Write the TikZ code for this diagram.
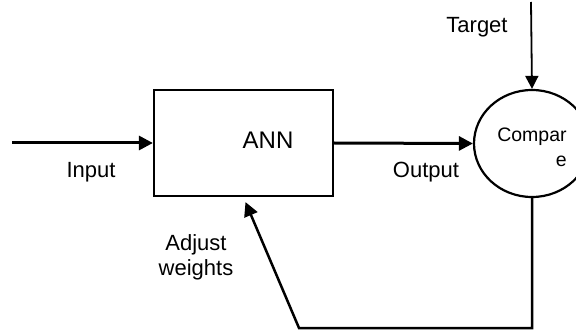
\documentclass[tikz,border=0pt]{standalone}
\usepackage{fontspec}
\setmainfont{Liberation Sans}
\usetikzlibrary{arrows.meta,shapes.geometric}

\begin{document}
\begin{tikzpicture}[%
  x=1pt, y=-1pt,
  annbox/.style={draw, line width=2.2pt, minimum width=179pt, minimum height=106pt, inner sep=0pt},
  cmpnode/.style={ellipse, draw, line width=2.2pt, minimum width=116pt, minimum height=107pt, inner sep=0pt},
  cmptxt/.style={inner sep=0pt, align=right, font=\fontsize{19.5}{25}\selectfont},
  lbl/.style={font=\fontsize{22}{25}\selectfont, inner sep=0pt, align=center},
  arr/.style={-{Triangle[length=14pt,width=14pt]}, line width=3pt}]
  \clip (0,0) rectangle (576,334);
  \node[annbox] (ann) at (243.5,143) {};
  \node[font=\fontsize{24}{28}\selectfont, inner sep=0pt, anchor=base] (anntxt) at (268,149) {ANN};
  \node[cmpnode, label={[cmptxt, yshift=-4pt]center:Compar\\e}] (cmp) at (532,143.5) {};
  \coordinate (inp) at (12,143);
  \coordinate (tgt) at (531,2);
  \coordinate (fbr) at (532,328);
  \coordinate (fbl) at (299,328);
  \draw[arr] (inp) -- (ann.west);
  \draw[arr] (ann.east) -- (cmp.west);
  \draw[line width=1.8pt, -{Triangle[length=13pt,width=13pt]}] (tgt) -- (cmp.north);
  \draw[arr, line width=2.5pt] (cmp.south) -- (fbr) -- (fbl) -- ([xshift=2pt,yshift=-5pt]ann.south);
  \node[lbl, anchor=base] (input) at (91,178) {Input};
  \node[lbl, anchor=base] (output) at (426,178) {Output};
  \node[lbl, anchor=base] (target) at (477,33) {Target};
  \node[lbl] (adjust) at (196,257) {Adjust\\weights};
\end{tikzpicture}
\end{document}
